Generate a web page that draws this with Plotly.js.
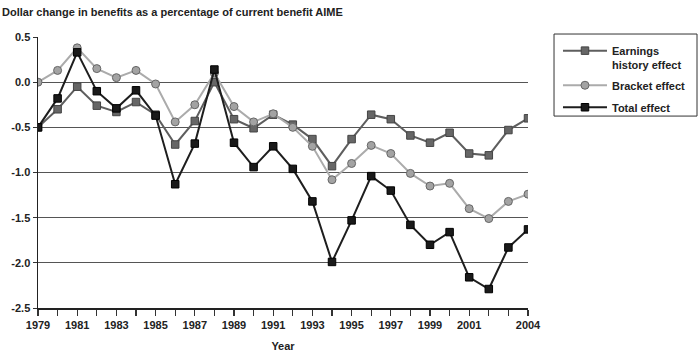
<!DOCTYPE html>
<html><head><meta charset="utf-8">
<script src="https://cdn.plot.ly/plotly-3.0.1.min.js"></script>
<style>html,body{margin:0;padding:0;background:#fff}#chart{width:700px;height:355px}</style>
</head><body><div id="chart"></div>
<script>
const years = [1979,1980,1981,1982,1983,1984,1985,1986,1987,1988,1989,1990,1991,1992,1993,1994,1995,1996,1997,1998,1999,2000,2001,2002,2003,2004];
const earningsEffect = [-0.50,-0.30,-0.05,-0.26,-0.33,-0.22,-0.36,-0.69,-0.43,0.00,-0.41,-0.51,-0.36,-0.47,-0.63,-0.93,-0.63,-0.36,-0.41,-0.59,-0.67,-0.56,-0.79,-0.81,-0.53,-0.40];
const bracketEffect = [0.00,0.13,0.38,0.15,0.05,0.13,-0.02,-0.44,-0.25,0.10,-0.27,-0.44,-0.35,-0.50,-0.71,-1.08,-0.90,-0.70,-0.79,-1.01,-1.15,-1.12,-1.40,-1.51,-1.32,-1.24];
const totalEffect = [-0.50,-0.18,0.33,-0.10,-0.29,-0.09,-0.37,-1.13,-0.68,0.14,-0.67,-0.94,-0.71,-0.96,-1.32,-1.99,-1.53,-1.04,-1.20,-1.58,-1.80,-1.66,-2.16,-2.29,-1.83,-1.63];
const xTickLabels = ['1979','','1981','','1983','','1985','','1987','','1989','','1991','','1993','','1995','','1997','','1999','','2001','','','2004'];
const yTickVals = [0.5,0.0,-0.5,-1.0,-1.5,-2.0,-2.5];
const yTickLabels = ['0.5','0.0','-0.5','-1.0','-1.5','-2.0','-2.5'];

const font = {family:'"Liberation Sans", Arial, sans-serif', size:11, color:'#222'};
const traces = [
  {x:years, y:earningsEffect, name:'<b>Earnings</b><br><b>history effect</b>', legendgroup:'a', mode:'lines+markers',
   line:{color:'#5e5e5e', width:2}, marker:{symbol:'square', size:7.5, color:'#666', line:{color:'#444', width:1}}},
  {x:years, y:bracketEffect, name:'<b>Bracket effect</b>', legendgroup:'b', mode:'lines+markers',
   line:{color:'#ababab', width:2}, marker:{symbol:'circle', size:8, color:'#a3a3a3', line:{color:'#666', width:1}}},
  {x:years, y:totalEffect, name:'<b>Total effect</b>', legendgroup:'c', mode:'lines+markers',
   line:{color:'#1e1e1e', width:2}, marker:{symbol:'square', size:7.5, color:'#1a1a1a', line:{color:'#000', width:1}}}
];
const layout = {
  width:700, height:355,
  margin:{l:38, r:172, t:37, b:47, autoexpand:false},
  paper_bgcolor:'#fff', plot_bgcolor:'#fff',
  font: font,
  showlegend:true,
  title:{text:'<b>Dollar change in benefits as a percentage of current benefit AIME</b>', x:0.003, xanchor:'left', y:0.965, yanchor:'middle', font:{family:font.family, size:11, color:'#222'}},
  xaxis:{range:[1979,2004], tickvals:years, ticktext:xTickLabels, ticks:'outside', ticklen:6, tickcolor:'#333', tickwidth:1.2,
    showline:true, linecolor:'#222', linewidth:1.5, showgrid:false, zeroline:false,
    tickfont:{family:font.family, size:11, color:'#222', weight:'bold'},
    title:{text:'<b>Year</b>', font:{family:font.family, size:11, color:'#222'}, standoff:12}},
  yaxis:{range:[-2.5,0.5], tickvals:yTickVals, ticktext:yTickLabels, ticks:'outside', ticklen:4, tickcolor:'#333',
    showline:true, linecolor:'#222', linewidth:1.5, showgrid:true, gridcolor:'#555', gridwidth:1.2, zeroline:false,
    tickfont:{family:font.family, size:11, color:'#222', weight:'bold'}},
  legend:{x:1.0612, y:1.0, xanchor:'left', yanchor:'top', borderwidth:0, bgcolor:'rgba(0,0,0,0)',
    font:{family:font.family, size:11, color:'#222'}, itemwidth:44, tracegroupgap:3, traceorder:'grouped', valign:'top'},
  shapes:[{type:'rect', xref:'paper', yref:'paper', x0:1.0531, x1:1.3449, y0:0.7082, y1:1.011,
    line:{color:'#333', width:1}, fillcolor:'rgba(0,0,0,0)'}]
};
Plotly.newPlot('chart', traces, layout, {staticPlot:true, displayModeBar:false});
</script></body></html>
